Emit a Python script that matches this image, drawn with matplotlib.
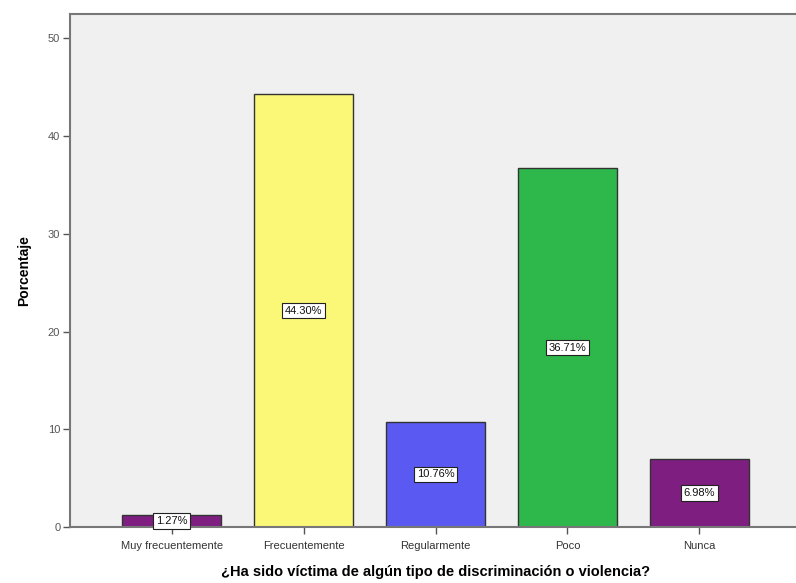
import matplotlib
matplotlib.use("Agg")
import matplotlib.pyplot as plt

categories = ["Muy frecuentemente", "Frecuentemente", "Regularmente", "Poco", "Nunca"]
values = [1.27, 44.30, 10.76, 36.71, 6.98]
labels = ["1.27%", "44.30%", "10.76%", "36.71%", "6.98%"]
colors = ["#7E1E80", "#FBF877", "#5A5AF2", "#2EB84B", "#7E1E80"]
yticks = [0, 10, 20, 30, 40, 50]

plt.rcParams['font.family'] = ['Liberation Sans', 'DejaVu Sans']

fig = plt.figure(figsize=(7.96, 5.83), dpi=100)
W, H = 796, 583
left, right, top, bottom = 70, 801, 14, 527
ax = fig.add_axes([left / W, (H - bottom) / H, (right - left) / W, (bottom - top) / H])
ax.set_facecolor("#F0F0F0")

x = list(range(len(categories)))
ax.bar(x, values, width=0.75, color=colors, edgecolor="#333333", linewidth=1.0, zorder=2)
for xi, v, lab in zip(x, values, labels):
    ax.text(xi, v / 2, lab, ha="center", va="center", fontsize=8, color="#111111", zorder=3,
            bbox=dict(boxstyle="square,pad=0.25", facecolor="white", edgecolor="#222222", linewidth=0.8))

ax.set_xlim(-0.77, 4.77)
ax.set_ylim(0, 52.5)
ax.set_xticks(x)
ax.set_xticklabels(categories, fontsize=8, color="#333333")
ax.set_yticks(yticks)
ax.set_yticklabels([str(t) for t in yticks], fontsize=8, color="#555555")
ax.tick_params(axis="both", direction="out", length=5, width=1, color="#555555", pad=2)
ax.tick_params(axis="x", pad=5)
for s in ax.spines.values():
    s.set_color("#777777")
    s.set_linewidth(1.5)
ax.spines["right"].set_visible(False)

ax.set_ylabel("Porcentaje", fontsize=10, fontweight="bold", labelpad=12)
ax.set_xlabel("¿Ha sido víctima de algún tipo de discriminación o violencia?", fontsize=10.5,
              fontweight="bold", labelpad=10)

fig.savefig("out.png", dpi=100)
